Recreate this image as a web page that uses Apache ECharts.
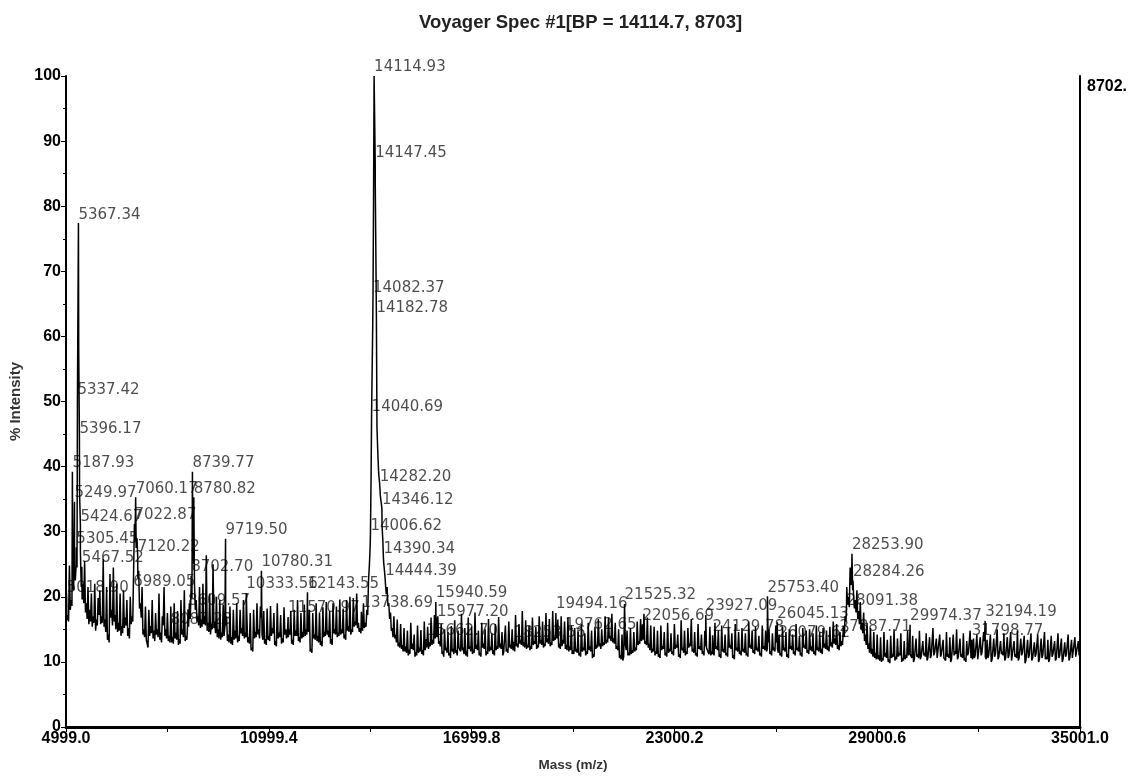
<!DOCTYPE html>
<html>
<head>
<meta charset="utf-8">
<title>Voyager Spec #1</title>
<script src="https://cdn.jsdelivr.net/npm/echarts@6/dist/echarts.min.js"></script>
<style>
  html, body { margin: 0; padding: 0; background: #fff; }
  #chart { width: 1138px; height: 783px; }
</style>
</head>
<body>
<div id="chart"></div>
<script>
// Spectrum trace, coarse samples: mass (m/z) and % intensity
const baselineMass = [
  5000,5050,5100,5150,5200,5250,5300,5350,5400,5450,5500,5550,5600,5650,5700,5750,5800,5850,5900,5950,
  6000,6050,6100,6150,6200,6250,6300,6350,6400,6450,6500,6550,6600,6650,6700,6750,6800,6850,6900,6950,
  7000,7050,7100,7150,7200,7250,7300,7350,7400,7450,7500,7550,7600,7650,7700,7750,7800,7850,7900,7950,
  8000,8050,8100,8150,8200,8250,8300,8350,8400,8450,8500,8550,8600,8650,8700,8750,8800,8850,8900,8950,
  9000,9050,9100,9150,9200,9250,9300,9350,9400,9450,9500,9550,9600,9650,9700,9750,9800,9850,9900,9950,
  10000,10050,10100,10150,10200,10250,10300,10350,10400,10450,10500,10550,10600,10650,10700,10750,10800,10850,10900,10950,
  11000,11050,11100,11150,11200,11250,11300,11350,11400,11450,11500,11550,11600,11650,11700,11750,11800,11850,11900,11950,
  12000,12050,12100,12150,12200,12250,12300,12350,12400,12450,12500,12550,12600,12650,12700,12750,12800,12850,12900,12950,
  13000,13050,13100,13150,13200,13250,13300,13350,13400,13450,13500,13550,13600,13650,13700,13750,13800,13850,13900,13950,
  14000,14050,14100,14150,14200,14250,14300,14350,14400,14450,14500,14550,14600,14650,14700,14750,14800,14850,14900,14950,
  15000,15050,15100,15150,15200,15250,15300,15350,15400,15450,15500,15550,15600,15650,15700,15750,15800,15850,15900,15950,
  16000,16050,16100,16150,16200,16250,16300,16350,16400,16450,16500,16550,16600,16650,16700,16750,16800,16850,16900,16950,
  17000,17050,17100,17150,17200,17250,17300,17350,17400,17450,17500,17550,17600,17650,17700,17750,17800,17850,17900,17950,
  18000,18050,18100,18150,18200,18250,18300,18350,18400,18450,18500,18550,18600,18650,18700,18750,18800,18850,18900,18950,
  19000,19050,19100,19150,19200,19250,19300,19350,19400,19450,19500,19550,19600,19650,19700,19750,19800,19850,19900,19950,
  20000,20050,20100,20150,20200,20250,20300,20350,20400,20450,20500,20550,20600,20650,20700,20750,20800,20850,20900,20950,
  21000,21050,21100,21150,21200,21250,21300,21350,21400,21450,21500,21550,21600,21650,21700,21750,21800,21850,21900,21950,
  22000,22050,22100,22150,22200,22250,22300,22350,22400,22450,22500,22550,22600,22650,22700,22750,22800,22850,22900,22950,
  23000,23050,23100,23150,23200,23250,23300,23350,23400,23450,23500,23550,23600,23650,23700,23750,23800,23850,23900,23950,
  24000,24050,24100,24150,24200,24250,24300,24350,24400,24450,24500,24550,24600,24650,24700,24750,24800,24850,24900,24950,
  25000,25050,25100,25150,25200,25250,25300,25350,25400,25450,25500,25550,25600,25650,25700,25750,25800,25850,25900,25950,
  26000,26050,26100,26150,26200,26250,26300,26350,26400,26450,26500,26550,26600,26650,26700,26750,26800,26850,26900,26950,
  27000,27050,27100,27150,27200,27250,27300,27350,27400,27450,27500,27550,27600,27650,27700,27750,27800,27850,27900,27950,
  28000,28050,28100,28150,28200,28250,28300,28350,28400,28450,28500,28550,28600,28650,28700,28750,28800,28850,28900,28950,
  29000,29050,29100,29150,29200,29250,29300,29350,29400,29450,29500,29550,29600,29650,29700,29750,29800,29850,29900,29950,
  30000,30050,30100,30150,30200,30250,30300,30350,30400,30450,30500,30550,30600,30650,30700,30750,30800,30850,30900,30950,
  31000,31050,31100,31150,31200,31250,31300,31350,31400,31450,31500,31550,31600,31650,31700,31750,31800,31850,31900,31950,
  32000,32050,32100,32150,32200,32250,32300,32350,32400,32450,32500,32550,32600,32650,32700,32750,32800,32850,32900,32950,
  33000,33050,33100,33150,33200,33250,33300,33350,33400,33450,33500,33550,33600,33650,33700,33750,33800,33850,33900,33950,
  34000,34050,34100,34150,34200,34250,34300,34350,34400,34450,34500,34550,34600,34650,34700,34750,34800,34850,34900,34950,35000
];
const baselineIntensity = [
  21.5,17.2,24.8,19.5,23.0,24.0,25.0,62.0,36.0,21.5,22.0,25.5,19.0,21.5,18.0,20.5,17.0,22.0,16.5,19.8,
  21.0,17.0,25.8,16.5,21.5,14.2,23.5,18.0,24.5,17.2,22.0,16.0,20.5,15.5,21.0,16.8,19.5,15.2,20.0,17.0,
  24.0,32.0,29.0,24.0,19.0,21.5,15.0,18.5,12.8,18.0,15.5,19.5,14.8,17.5,15.0,20.5,14.5,17.0,21.5,15.0,
  17.5,14.0,18.5,13.8,19.0,14.5,17.8,13.5,19.5,15.0,21.0,14.0,16.0,19.0,21.0,30.0,22.0,19.5,17.0,21.5,
  16.5,22.0,17.0,26.4,16.0,20.5,15.8,25.0,16.2,20.0,15.0,19.5,14.5,18.8,15.5,17.0,14.2,18.5,13.8,18.0,
  14.8,19.0,14.0,18.0,15.2,19.5,14.5,17.0,13.8,17.5,12.2,18.0,14.6,19.0,15.0,18.5,14.2,17.8,13.5,18.2,
  14.0,18.6,15.2,17.5,13.2,19.0,14.5,17.2,13.6,18.4,15.0,14.5,15.0,17.8,13.4,18.0,14.8,19.5,13.8,17.5,
  14.6,18.8,15.0,15.5,18.0,12.0,17.5,14.2,19.0,14.0,17.6,13.2,18.4,14.6,19.2,14.8,17.8,13.5,19.0,15.0,
  18.5,14.5,19.6,15.0,18.2,14.2,19.5,15.5,20.0,15.0,19.8,16.2,20.5,16.0,15.2,15.5,19.0,16.0,18.0,22.5,
  28.0,52.0,82.0,83.0,46.0,39.0,35.5,31.0,25.2,22.0,21.5,19.0,17.6,15.2,17.0,14.2,16.5,13.0,15.8,12.6,
  15.2,12.4,14.8,11.9,16.0,12.8,14.2,11.5,15.6,12.2,14.9,11.8,16.2,12.6,15.4,13.0,16.8,13.4,17.2,14.5,
  17.0,13.2,15.8,11.6,15.0,12.2,14.6,11.4,15.5,12.0,16.4,11.8,14.8,12.5,17.4,12.2,15.2,11.7,16.8,12.4,
  15.4,11.9,17.6,12.6,14.8,11.4,16.0,12.8,15.0,11.6,16.6,12.3,14.4,11.8,15.8,12.4,16.9,12.8,14.6,11.5,
  15.6,12.0,16.2,12.7,15.0,12.2,17.2,12.8,15.8,13.4,17.8,13.0,16.4,12.6,15.6,12.4,16.8,13.2,15.4,12.6,
  17.0,13.4,16.2,12.8,17.5,13.6,16.6,13.0,17.8,13.8,14.2,16.5,12.8,17.0,13.4,16.2,12.6,16.8,12.4,15.6,
  11.8,15.2,12.0,14.6,11.4,15.8,12.2,14.4,11.6,16.0,12.4,14.8,11.2,15.4,12.6,16.6,12.8,15.0,13.0,17.0,
  13.4,16.8,14.0,17.4,13.6,16.0,12.4,15.0,11.0,14.2,10.8,12.6,14.8,11.4,15.2,11.8,14.6,12.2,16.2,13.2,
  16.6,13.8,17.4,13.2,16.8,12.8,15.6,12.0,15.4,11.6,14.8,11.2,15.6,12.4,14.6,11.4,16.0,12.0,14.4,11.6,
  15.8,12.6,14.2,11.2,16.4,12.2,14.8,11.6,15.2,12.8,16.6,12.0,14.6,11.4,15.8,12.4,14.2,11.6,14.8,12.2,
  11.8,15.4,11.6,11.4,16.0,12.4,14.8,11.2,15.6,12.0,14.2,11.4,15.4,12.6,14.4,11.0,15.8,12.2,14.6,11.6,
  15.2,12.0,14.4,11.4,16.2,12.6,14.8,11.8,15.4,12.2,14.0,11.4,15.6,12.4,14.8,12.0,15.0,11.6,14.4,12.2,
  15.6,12.0,14.2,11.4,15.4,12.2,14.6,11.2,15.0,12.4,14.2,11.6,15.8,12.2,14.0,11.4,15.2,12.6,14.8,11.8,
  15.0,12.4,14.4,11.6,15.6,12.2,14.6,12.0,15.2,12.8,14.8,12.4,15.4,13.0,16.2,13.6,15.8,12.6,14.6,13.2,
  15.5,17.0,21.5,20.0,24.5,25.0,20.5,19.5,21.0,17.8,19.2,16.0,17.6,14.2,16.0,12.8,15.2,12.0,14.6,11.4,
  14.2,11.0,13.8,10.6,14.6,11.4,13.4,10.4,14.0,11.2,15.0,10.8,13.6,11.4,14.4,10.6,13.2,11.0,14.8,11.6,
  11.0,14.0,10.4,13.6,11.2,14.8,10.8,13.2,11.4,14.4,10.6,13.8,11.0,15.2,11.4,13.6,10.8,14.2,11.2,13.4,
  10.6,14.6,11.2,13.8,10.4,14.2,11.6,15.0,10.8,13.6,11.2,14.4,10.6,13.2,11.4,14.8,10.8,13.6,11.0,14.2,
  10.6,13.8,11.4,14.6,10.8,13.4,11.0,14.2,10.4,13.6,11.2,15.0,10.8,13.2,11.6,14.4,10.6,13.8,11.0,14.6,
  10.4,13.2,11.2,14.8,10.6,13.6,11.4,14.0,10.2,13.4,11.0,14.4,10.6,13.0,11.2,14.2,10.4,13.6,11.0,14.6,
  10.8,13.4,10.4,14.0,11.2,13.2,10.6,14.4,11.0,13.6,10.4,13.0,11.2,14.2,10.6,13.4,10.8,13.8,11.0,13.2,11.6
];

// Spectrum trace, samples in between the coarse ones
const midMass = [
  5025,5075,5125,5175,5225,5275,5325,5375,5425,5475,5525,5575,5625,5675,5725,5775,5825,5875,5925,5975,
  6025,6075,6125,6175,6225,6275,6325,6375,6425,6475,6525,6575,6625,6675,6725,6775,6825,6875,6925,6975,
  7025,7075,7125,7175,7225,7275,7325,7375,7425,7475,7525,7575,7625,7675,7725,7775,7825,7875,7925,7975,
  8025,8075,8125,8175,8225,8275,8325,8375,8425,8475,8525,8575,8625,8675,8725,8775,8825,8875,8925,8975,
  9025,9075,9125,9175,9225,9275,9325,9375,9425,9475,9525,9575,9625,9675,9725,9775,9825,9875,9925,9975,
  10025,10075,10125,10175,10225,10275,10325,10375,10425,10475,10525,10575,10625,10675,10725,10775,10825,10875,10925,10975,
  11025,11075,11125,11175,11225,11275,11325,11375,11425,11475,11525,11575,11625,11675,11725,11775,11825,11875,11925,11975,
  12025,12075,12125,12175,12225,12275,12325,12375,12425,12475,12525,12575,12625,12675,12725,12775,12825,12875,12925,12975,
  13025,13075,13125,13175,13225,13275,13325,13375,13425,13475,13525,13575,13625,13675,13725,13775,13825,13875,13925,13975,
  14025,14075,14125,14175,14225,14275,14325,14375,14425,14475,14525,14575,14625,14675,14725,14775,14825,14875,14925,14975,
  15025,15075,15125,15175,15225,15275,15325,15375,15425,15475,15525,15575,15625,15675,15725,15775,15825,15875,15925,15975,
  16025,16075,16125,16175,16225,16275,16325,16375,16425,16475,16525,16575,16625,16675,16725,16775,16825,16875,16925,16975,
  17025,17075,17125,17175,17225,17275,17325,17375,17425,17475,17525,17575,17625,17675,17725,17775,17825,17875,17925,17975,
  18025,18075,18125,18175,18225,18275,18325,18375,18425,18475,18525,18575,18625,18675,18725,18775,18825,18875,18925,18975,
  19025,19075,19125,19175,19225,19275,19325,19375,19425,19475,19525,19575,19625,19675,19725,19775,19825,19875,19925,19975,
  20025,20075,20125,20175,20225,20275,20325,20375,20425,20475,20525,20575,20625,20675,20725,20775,20825,20875,20925,20975,
  21025,21075,21125,21175,21225,21275,21325,21375,21425,21475,21525,21575,21625,21675,21725,21775,21825,21875,21925,21975,
  22025,22075,22125,22175,22225,22275,22325,22375,22425,22475,22525,22575,22625,22675,22725,22775,22825,22875,22925,22975,
  23025,23075,23125,23175,23225,23275,23325,23375,23425,23475,23525,23575,23625,23675,23725,23775,23825,23875,23925,23975,
  24025,24075,24125,24175,24225,24275,24325,24375,24425,24475,24525,24575,24625,24675,24725,24775,24825,24875,24925,24975,
  25025,25075,25125,25175,25225,25275,25325,25375,25425,25475,25525,25575,25625,25675,25725,25775,25825,25875,25925,25975,
  26025,26075,26125,26175,26225,26275,26325,26375,26425,26475,26525,26575,26625,26675,26725,26775,26825,26875,26925,26975,
  27025,27075,27125,27175,27225,27275,27325,27375,27425,27475,27525,27575,27625,27675,27725,27775,27825,27875,27925,27975,
  28025,28075,28125,28175,28225,28275,28325,28375,28425,28475,28525,28575,28625,28675,28725,28775,28825,28875,28925,28975,
  29025,29075,29125,29175,29225,29275,29325,29375,29425,29475,29525,29575,29625,29675,29725,29775,29825,29875,29925,29975,
  30025,30075,30125,30175,30225,30275,30325,30375,30425,30475,30525,30575,30625,30675,30725,30775,30825,30875,30925,30975,
  31025,31075,31125,31175,31225,31275,31325,31375,31425,31475,31525,31575,31625,31675,31725,31775,31825,31875,31925,31975,
  32025,32075,32125,32175,32225,32275,32325,32375,32425,32475,32525,32575,32625,32675,32725,32775,32825,32875,32925,32975,
  33025,33075,33125,33175,33225,33275,33325,33375,33425,33475,33525,33575,33625,33675,33725,33775,33825,33875,33925,33975,
  34025,34075,34125,34175,34225,34275,34325,34375,34425,34475,34525,34575,34625,34675,34725,34775,34825,34875,34925,34975
];
const midIntensity = [
  16.4,16.2,18.0,18.6,21.0,22.5,24.5,58.0,27.0,19.6,19.0,17.6,16.6,15.8,16.2,15.4,16.0,14.8,15.6,17.2,
  15.8,16.0,15.4,14.6,13.4,13.0,16.8,15.6,16.2,15.0,14.6,14.8,14.0,14.4,15.2,15.6,14.0,13.6,15.8,16.2,
  28.6,27.5,22.8,18.2,16.8,14.2,13.8,13.4,12.2,14.0,14.4,13.6,13.2,14.2,13.8,13.4,13.0,15.6,14.0,13.6,
  13.2,13.0,13.0,12.8,13.6,13.4,12.6,12.8,14.2,13.8,13.2,13.4,15.4,16.6,19.8,25.0,18.0,16.2,15.6,15.2,
  15.4,15.8,15.6,14.8,14.6,14.2,15.0,15.2,14.4,13.8,13.6,13.4,13.8,14.0,15.6,13.2,13.0,12.8,12.6,13.4,
  13.6,13.0,13.2,14.4,14.0,13.6,13.8,13.0,12.8,11.8,11.6,13.6,13.8,14.2,13.6,16.8,13.4,12.8,12.6,13.4,
  13.2,14.0,14.4,12.6,12.4,13.6,13.8,12.8,13.0,14.2,13.6,13.8,14.2,12.8,12.6,14.0,14.0,13.2,13.0,13.6,
  13.8,14.0,14.2,14.6,11.6,11.4,13.6,13.4,13.2,13.0,12.6,12.4,13.8,14.0,14.2,13.8,12.8,12.6,14.4,14.2,
  13.8,14.0,14.2,14.4,13.6,13.4,14.8,14.6,14.2,14.6,15.4,15.6,15.2,14.6,14.4,14.8,15.2,15.4,17.2,24.8,
  38.0,62.0,96.0,68.0,42.0,37.6,34.5,28.5,23.8,20.4,18.6,16.6,14.8,13.8,13.6,13.0,12.4,12.2,12.0,11.6,
  11.6,11.4,11.0,11.2,12.0,11.8,10.8,11.0,11.4,11.6,11.2,11.0,11.8,12.2,12.0,12.4,12.6,12.8,13.6,13.8,
  12.8,12.4,11.2,10.8,11.8,11.4,11.0,10.6,11.6,11.2,11.4,11.0,12.2,11.6,11.8,11.2,11.0,10.8,12.0,11.6,
  11.2,11.4,12.0,11.8,11.0,10.8,12.2,12.0,11.0,11.2,11.6,11.8,11.2,11.0,11.8,12.0,12.2,12.0,11.0,11.2,
  11.6,11.4,12.2,12.0,11.8,11.6,12.4,12.2,12.8,12.6,12.4,12.2,12.0,12.2,11.8,12.0,12.6,12.8,12.0,12.2,
  12.8,12.6,12.2,12.4,13.0,12.8,12.4,12.6,13.2,13.4,13.6,12.2,12.0,12.4,12.8,12.0,11.8,11.6,11.8,11.2,
  11.2,11.6,11.4,11.0,10.8,11.6,11.8,11.0,11.2,11.8,11.6,10.6,10.8,12.0,12.2,12.4,12.0,12.4,12.6,12.8,
  13.0,13.6,13.2,13.0,12.8,12.0,11.8,10.6,10.4,10.2,10.6,11.8,11.0,11.0,11.2,11.4,11.6,11.8,12.6,12.8,
  13.2,13.4,12.8,12.6,12.2,11.8,11.4,11.6,11.0,11.2,10.8,10.6,11.8,12.0,11.0,10.8,11.4,11.6,11.2,11.0,
  12.0,12.2,10.8,10.6,11.8,11.4,11.0,11.2,12.2,12.4,11.6,11.4,11.0,10.8,12.0,11.8,11.2,11.0,12.4,11.8,
  11.2,11.0,11.2,11.0,12.0,11.8,10.8,10.6,11.6,11.4,11.0,10.8,12.2,12.0,10.6,10.4,11.8,11.6,11.2,11.0,
  11.6,11.4,11.0,10.8,12.2,12.0,11.4,11.2,11.8,11.6,11.0,10.8,12.0,11.8,11.6,13.0,11.2,11.0,11.8,11.6,
  13.0,11.4,11.0,10.8,11.8,11.6,10.8,10.6,12.0,11.8,11.2,11.0,11.8,11.6,11.0,10.8,12.2,12.0,11.4,11.2,
  11.8,11.6,11.2,11.0,11.8,11.6,11.4,11.2,12.2,12.0,11.8,11.6,12.4,12.2,12.8,12.6,12.0,11.8,12.4,12.6,
  13.8,16.2,18.8,18.4,21.8,21.0,18.2,17.6,16.6,15.8,15.0,14.4,13.2,12.6,12.0,11.4,11.2,10.8,10.6,10.4,
  10.4,10.2,10.0,10.2,10.8,10.6,10.0,9.8,10.6,10.8,10.2,10.4,10.8,11.0,10.0,10.2,10.4,10.6,11.0,11.2,
  10.6,10.0,10.2,10.8,10.6,10.4,10.6,11.0,10.8,10.2,10.4,10.6,10.8,11.0,11.2,10.6,10.4,10.8,11.0,10.6,
  10.2,10.8,10.6,10.0,10.2,11.0,11.2,10.4,10.6,10.8,10.6,10.2,10.0,11.0,11.2,10.6,10.4,10.6,10.8,10.4,
  10.2,11.0,11.2,13.2,10.4,10.6,10.8,10.0,10.2,10.8,11.0,10.4,10.6,11.2,11.0,10.2,10.4,10.6,10.8,10.2,
  10.0,10.8,10.6,10.2,10.4,11.0,11.2,9.8,10.0,10.6,10.8,10.2,10.4,10.8,11.0,10.0,10.2,10.6,10.8,10.4,
  10.4,10.0,10.2,10.8,11.0,10.2,10.4,10.6,10.8,10.0,10.2,10.8,11.0,10.2,10.4,10.6,10.4,10.8,10.6,11.0
];

// Labelled peaks: centroid mass and % intensity at that mass
const peakMass = [
  5018.90, 5187.93, 5249.97, 5305.45, 5337.42, 5367.34, 5396.17, 5424.67, 5467.52,
  6989.05, 7022.87, 7060.17, 7120.22, 8087.23, 8609.57, 8702.70, 8739.77, 8780.82,
  9719.50, 10333.56, 10780.31, 11570.97, 12143.55, 13738.69,
  14006.62, 14040.69, 14082.37, 14114.93, 14147.45, 14182.78, 14282.20, 14346.12, 14390.34, 14444.39,
  15662.70, 15940.59, 15977.20, 18253.56, 19494.16, 19762.65, 21525.32, 22056.69,
  23927.09, 24129.78, 25753.40, 26045.13, 26079.62, 27887.71, 28091.38, 28253.90, 28284.26,
  29974.37, 31798.77, 32194.19
];
const peakIntensity = [
  20.0, 39.2, 34.6, 27.6, 50.5, 77.4, 44.5, 31.0, 24.6,
  20.9, 31.2, 35.3, 26.3, 15.1, 18.1, 23.2, 39.2, 35.3,
  28.9, 20.6, 24.0, 16.9, 20.7, 17.7,
  29.5, 47.9, 66.1, 100.0, 86.9, 63.0, 37.1, 33.5, 26.0, 22.6,
  13.5, 19.2, 16.3, 13.1, 17.5, 14.4, 18.9, 15.8,
  17.2, 14.1, 20.1, 16.1, 13.1, 14.1, 18.1, 26.6, 22.5,
  15.7, 13.4, 16.3
];

// Axis ticks
const massTickLabels = [4999.0, 10999.4, 16999.8, 23000.2, 29000.6, 35001.0];
const massMinorTicks = [7999.2, 13999.6, 20000.0, 26000.4, 32000.8];
const basePeakCounts = 8702.6;

const titleText = 'Voyager Spec #1[BP = 14114.7, 8703]';

const pairs = (xs, ys) => xs.map((m, i) => [m, ys[i]]);
const trace = pairs(baselineMass, baselineIntensity)
  .concat(pairs(midMass, midIntensity))
  .concat(pairs(peakMass, peakIntensity))
  .sort((a, b) => a[0] - b[0]);
const peakPoints = pairs(peakMass, peakIntensity);

const chart = echarts.init(document.getElementById('chart'), null, { renderer: 'canvas' });

const boldFont = { fontFamily: '"Liberation Sans", Arial, sans-serif', fontWeight: 'bold', color: '#000' };

chart.setOption({
  animation: false,
  backgroundColor: '#fff',
  title: {
    text: titleText,
    left: 414,
    top: 8,
    textStyle: Object.assign({}, boldFont, { fontSize: 18.5, color: '#222' })
  },
  grid: { left: 66, right: 58, top: 76, bottom: 56, containLabel: false },
  xAxis: {
    type: 'value',
    min: 4999.0,
    max: 35001.0,
    name: 'Mass (m/z)',
    nameLocation: 'middle',
    nameGap: 31,
    nameTextStyle: Object.assign({}, boldFont, { fontSize: 13.5, color: '#333' }),
    axisLine: { show: true, onZero: false, lineStyle: { color: '#000', width: 3 } },
    axisTick: { show: true, length: 5, customValues: massTickLabels.concat(massMinorTicks), lineStyle: { color: '#000', width: 1 } },
    axisLabel: Object.assign({
      fontSize: 16, margin: 4,
      customValues: massTickLabels,
      formatter: v => v.toFixed(1),
      showMinLabel: true, showMaxLabel: true
    }, boldFont),
    splitLine: { show: false }
  },
  yAxis: [{
    type: 'value',
    min: 0,
    max: 100,
    interval: 10,
    name: '% Intensity',
    nameLocation: 'middle',
    nameGap: 42,
    nameTextStyle: Object.assign({}, boldFont, { fontSize: 15, color: '#333' }),
    axisLine: { show: true, lineStyle: { color: '#000', width: 2 } },
    axisTick: { show: true, length: 5, lineStyle: { color: '#000', width: 1 } },
    minorTick: { show: true, splitNumber: 2, length: 3, lineStyle: { color: '#000', width: 1 } },
    axisLabel: Object.assign({ fontSize: 16, margin: 5 }, boldFont),
    splitLine: { show: false }
  }, {
    type: 'value',
    position: 'right',
    min: 0,
    max: basePeakCounts,
    axisLine: { show: true, lineStyle: { color: '#000', width: 2 } },
    axisTick: { show: false },
    axisLabel: Object.assign({
      fontSize: 16, margin: 7,
      verticalAlign: 'top',
      padding: [3, 0, 0, 0],
      customValues: [basePeakCounts],
      formatter: v => Math.floor(v) + '.'
    }, boldFont),
    splitLine: { show: false }
  }],
  series: [{
    name: 'peaks',
    type: 'scatter',
    z: 1,
    data: peakPoints,
    symbolSize: 0,
    silent: true,
    label: {
      show: true,
      position: [0, -1],
      align: 'left',
      verticalAlign: 'bottom',
      formatter: p => p.value[0].toFixed(2),
      fontFamily: '"DejaVu Sans", sans-serif',
      fontSize: 15,
      color: '#1e1e1e'
    },
    labelLayout: { hideOverlap: false }
  }, {
    name: 'spectrum',
    type: 'line',
    z: 3,
    data: trace,
    showSymbol: false,
    symbol: 'none',
    sampling: null,
    lineStyle: { color: '#000', width: 1.5 },
    silent: true
  }]
});
</script>
</body>
</html>
